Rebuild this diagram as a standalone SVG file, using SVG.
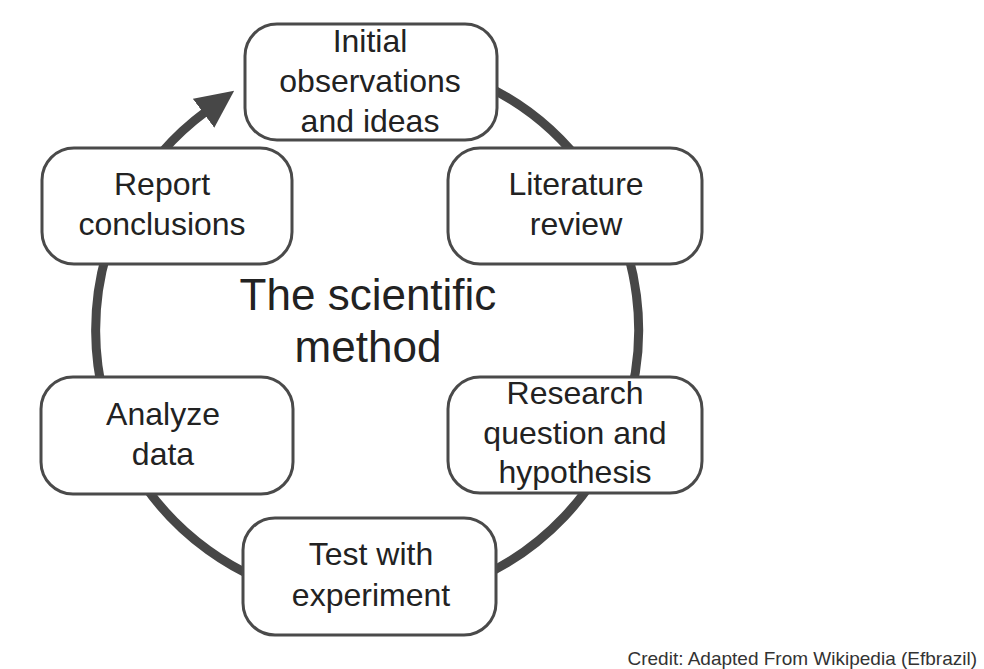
<svg xmlns="http://www.w3.org/2000/svg" width="984" height="669" viewBox="0 0 984 669">
<style>
  .box { fill: #ffffff; stroke: #4a4a4a; stroke-width: 3; }
  .lbl { font-family: "Liberation Sans", Arial, sans-serif; font-size: 32px; fill: #222222; text-anchor: middle; }
  .title { font-family: "Liberation Sans", Arial, sans-serif; font-size: 44px; fill: #222222; text-anchor: middle; }
  .credit { font-family: "Liberation Sans", Arial, sans-serif; font-size: 19px; fill: #333333; text-anchor: end; }
  .cycle { fill: none; stroke: #474747; stroke-width: 9; }
</style>
<defs>
  <marker id="arrow" markerUnits="userSpaceOnUse" viewBox="0 0 38 36" markerWidth="38" markerHeight="36" refX="3" refY="18" orient="auto">
    <path d="M0,0 L38,18 L0,36 z" fill="#474747"/>
  </marker>
</defs>
<rect width="984" height="669" fill="#ffffff"/>
<g id="connectors">
  <path class="cycle" d="M 368.5 58.5 A 271.5 271.5 0 1 1 206 111.5" marker-end="url(#arrow)"/>
</g>
<g id="title">
  <text class="title" x="368" y="310">The scientific</text>
  <text class="title" x="368" y="362">method</text>
</g>
<g id="node-initial">
  <rect class="box" x="245" y="24" width="252" height="116" rx="32"/>
  <text class="lbl" x="370" y="52">Initial</text>
  <text class="lbl" x="370" y="92">observations</text>
  <text class="lbl" x="370" y="132">and ideas</text>
</g>
<g id="node-literature">
  <rect class="box" x="448" y="148" width="254" height="116" rx="32"/>
  <text class="lbl" x="576" y="195">Literature</text>
  <text class="lbl" x="576" y="235">review</text>
</g>
<g id="node-research">
  <rect class="box" x="448" y="377" width="254" height="116" rx="32"/>
  <text class="lbl" x="575" y="404">Research</text>
  <text class="lbl" x="575" y="444">question and</text>
  <text class="lbl" x="575" y="483">hypothesis</text>
</g>
<g id="node-test">
  <rect class="box" x="243" y="518" width="253" height="117" rx="32"/>
  <text class="lbl" x="371" y="565">Test with</text>
  <text class="lbl" x="371" y="606">experiment</text>
</g>
<g id="node-analyze">
  <rect class="box" x="41" y="377" width="252" height="117" rx="32"/>
  <text class="lbl" x="163" y="425">Analyze</text>
  <text class="lbl" x="163" y="465">data</text>
</g>
<g id="node-report">
  <rect class="box" x="42" y="148" width="250" height="116" rx="32"/>
  <text class="lbl" x="162" y="195">Report</text>
  <text class="lbl" x="162" y="235">conclusions</text>
</g>
<g id="credit">
  <text class="credit" x="977" y="665">Credit: Adapted From Wikipedia (Efbrazil)</text>
</g>
</svg>
